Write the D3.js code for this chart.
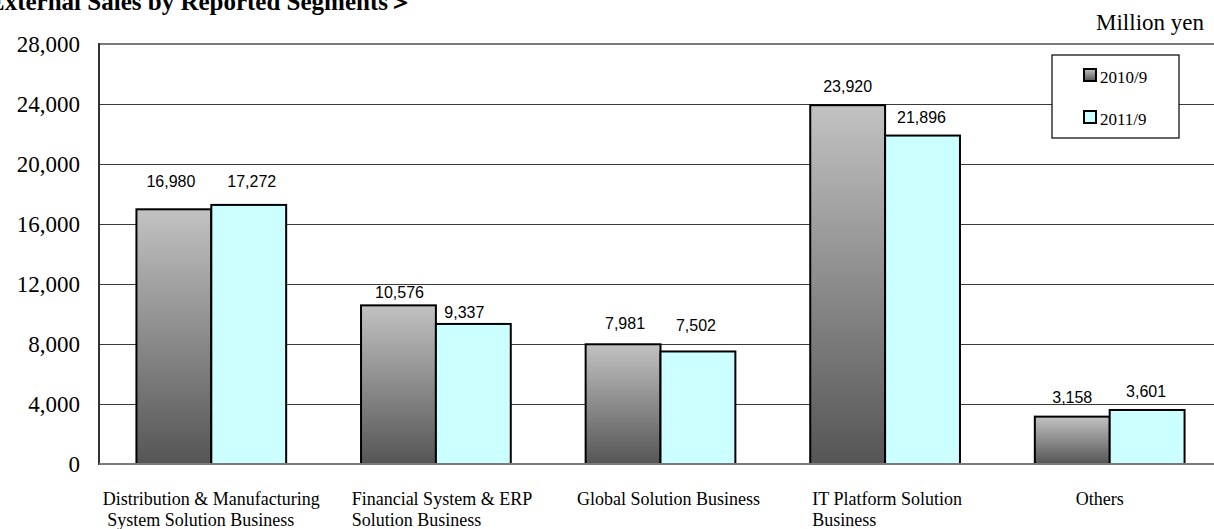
<!DOCTYPE html>
<html>
<head>
<meta charset="utf-8">
<script src="https://cdn.jsdelivr.net/npm/d3@7"></script>
<style>
  html, body { margin: 0; padding: 0; background: #fff; overflow: hidden; }
  svg { display: block; }
</style>
</head>
<body>
<svg id="chart" width="1214" height="529"></svg>
<script>
// Segment sales, million yen
const categories = [
  ["Distribution & Manufacturing", " System Solution Business"],
  ["Financial System & ERP", "Solution Business"],
  ["Global Solution Business"],
  ["IT Platform Solution", "Business"],
  ["Others"]
];
const seriesNames = ["2010/9", "2011/9"];
const sales2010 = [16980, 10576, 7981, 23920, 3158];
const sales2011 = [17272, 9337, 7502, 21896, 3601];
const yTicks = [0, 4000, 8000, 12000, 16000, 20000, 24000, 28000];

// Label placement tweaks (pixels above bar top, horizontal shift)
const labelLift = [[22, 18], [7, 5.5], [15, 20], [13.5, 13], [13.5, 12.5]];
const labelShift = [[-3, 3], [1, -9], [2, -2], [0, -1], [0, -1]];
const catShift = [0, 6, 8, 2, -10];

const svg = d3.select("#chart");
const plotLeft = 99, plotRight = 1222, plotTop = 44, plotBottom = 464;

const x0 = d3.scaleBand().domain(d3.range(categories.length)).range([plotLeft, plotRight]).padding(0);
const bw = x0.bandwidth();
const x1 = d3.scaleBand().domain([0, 1]).range([bw / 6, bw * 5 / 6]).padding(0);
const y = d3.scaleLinear().domain([0, 28000]).range([plotBottom, plotTop]);

// Gradient for the 2010/9 bars
const defs = svg.append("defs");
const grad = defs.append("linearGradient").attr("id", "gray").attr("x1", 0).attr("y1", 0).attr("x2", 0).attr("y2", 1);
grad.append("stop").attr("offset", "0%").attr("stop-color", "#c2c2c2");
grad.append("stop").attr("offset", "100%").attr("stop-color", "#555555");
const fills = ["url(#gray)", "#ccffff"];

// Gridlines
svg.append("g")
  .attr("transform", `translate(${plotLeft},0)`)
  .call(d3.axisRight(y).tickValues(yTicks.filter(t => t > 0 && t < 28000)).tickSize(plotRight - plotLeft).tickFormat(""))
  .call(g => g.select(".domain").remove())
  .call(g => g.selectAll("line").attr("stroke", "#3a3a3a").attr("stroke-width", 1).attr("shape-rendering", "crispEdges"));

// Top border
svg.append("line").attr("x1", plotLeft).attr("x2", plotRight).attr("y1", y(28000)).attr("y2", y(28000))
  .attr("stroke", "#7a7a7a").attr("stroke-width", 2);

// Y axis labels
const yAxis = svg.append("g")
  .attr("transform", `translate(${plotLeft},0)`)
  .call(d3.axisLeft(y).tickValues(yTicks).tickSize(0).tickPadding(19).tickFormat(d3.format(",")));
yAxis.select(".domain").remove();
yAxis.selectAll("text")
  .attr("font-family", "'Liberation Serif', 'Times New Roman', serif")
  .attr("font-size", 23).attr("fill", "#000");

// Bars
const groups = svg.append("g").selectAll("g")
  .data(categories.map((c, i) => ({ i, vals: [sales2010[i], sales2011[i]] })))
  .join("g")
  .attr("transform", d => `translate(${x0(d.i)},0)`);

groups.selectAll("rect")
  .data(d => d.vals.map((v, s) => ({ v, s, i: d.i })))
  .join("rect")
  .attr("x", d => x1(d.s))
  .attr("y", d => y(d.v))
  .attr("width", x1.bandwidth())
  .attr("height", d => y(0) - y(d.v))
  .attr("fill", d => fills[d.s])
  .attr("stroke", "#000")
  .attr("stroke-width", 2);

// Value labels
groups.selectAll("text.val")
  .data(d => d.vals.map((v, s) => ({ v, s, i: d.i })))
  .join("text")
  .attr("class", "val")
  .attr("x", d => x1(d.s) + x1.bandwidth() / 2 + labelShift[d.i][d.s])
  .attr("y", d => y(d.v) - labelLift[d.i][d.s])
  .attr("text-anchor", "middle")
  .attr("font-family", "'Liberation Sans', Arial, sans-serif")
  .attr("font-size", 16)
  .attr("fill", "#000")
  .text(d => d3.format(",")(d.v));

// Left axis and baseline
svg.append("line").attr("x1", plotLeft).attr("x2", plotLeft).attr("y1", y(28000) - 1).attr("y2", y(0) + 1)
  .attr("stroke", "#333").attr("stroke-width", 2);
svg.append("line").attr("x1", plotLeft).attr("x2", plotRight).attr("y1", y(0)).attr("y2", y(0))
  .attr("stroke", "#7a7a7a").attr("stroke-width", 2);

// Category labels: first line centred under the group, second line left-aligned with it
categories.forEach((lines, i) => {
  const t = svg.append("text")
    .attr("font-family", "'Liberation Serif', 'Times New Roman', serif")
    .attr("font-size", 18)
    .attr("fill", "#000")
    .style("white-space", "pre");
  const first = t.append("tspan").attr("x", 0).attr("y", 505).text(lines[0]);
  const w = first.node().getComputedTextLength();
  const x = x0(i) + bw / 2 - w / 2 + catShift[i];
  first.attr("x", x);
  lines.slice(1).forEach((ln, k) => {
    t.append("tspan").attr("x", x).attr("y", 505 + 21 * (k + 1)).text(ln);
  });
});

// Legend
const lg = svg.append("g").attr("transform", "translate(1052,55)");
lg.append("rect").attr("width", 127).attr("height", 83).attr("fill", "#fff").attr("stroke", "#000").attr("stroke-width", 1.2);
seriesNames.forEach((name, s) => {
  const row = lg.append("g").attr("transform", `translate(32,${14 + s * 42})`);
  row.append("rect").attr("width", 12).attr("height", 12).attr("fill", fills[s]).attr("stroke", "#000").attr("stroke-width", 2);
  row.append("text").attr("x", 16).attr("y", 13.5)
    .attr("font-family", "'Liberation Serif', 'Times New Roman', serif")
    .attr("font-size", 17).attr("fill", "#000").text(name);
});

// Unit note
svg.append("text").attr("x", 1204).attr("y", 30).attr("text-anchor", "end")
  .attr("font-family", "'Liberation Serif', 'Times New Roman', serif")
  .attr("font-size", 23).attr("fill", "#000").text("Million yen");

// Title
svg.append("text").attr("x", 413).attr("y", 10).attr("text-anchor", "end")
  .attr("font-family", "'Liberation Serif', 'Times New Roman', serif")
  .attr("font-weight", "bold")
  .attr("font-size", 25).attr("fill", "#000").text("＜External Sales by Reported Segments＞");
</script>
</body>
</html>
